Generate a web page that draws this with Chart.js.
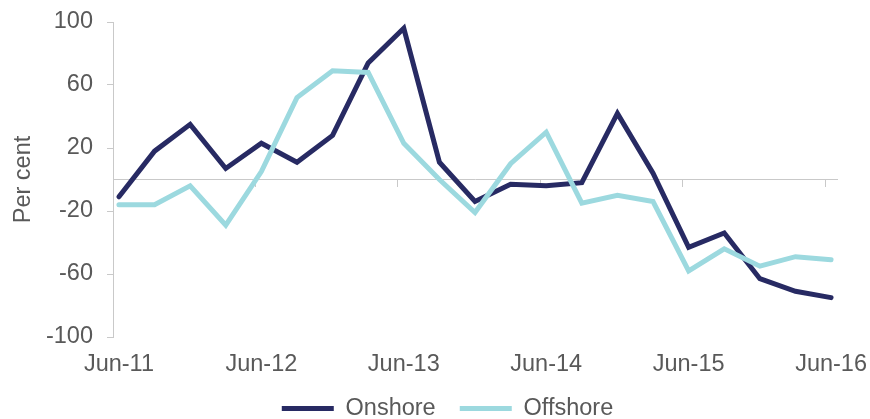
<!DOCTYPE html>
<html>
<head>
<meta charset="utf-8">
<title>Onshore and offshore</title>
<script src="https://cdn.jsdelivr.net/npm/chart.js@4.4.1/dist/chart.umd.min.js"></script>
<style>
  html, body { margin: 0; padding: 0; background: #ffffff; }
  #wrap { width: 870px; height: 419px; position: relative; }
</style>
</head>
<body>
<div id="wrap"><canvas id="chart"></canvas></div>
<script>
// Quarterly observations, per cent
const quarters = ['Jun-11', 'Sep-11', 'Dec-11', 'Mar-12', 'Jun-12', 'Sep-12', 'Dec-12',
                  'Mar-13', 'Jun-13', 'Sep-13', 'Dec-13', 'Mar-14', 'Jun-14', 'Sep-14',
                  'Dec-14', 'Mar-15', 'Jun-15', 'Sep-15', 'Dec-15', 'Mar-16', 'Jun-16'];
const onshore  = [-11, 18, 35, 7, 23, 11, 28, 74, 96, 11, -14, -3, -4, -2, 42, 4, -43, -34, -63, -71, -75];
const offshore = [-16, -16, -4, -29, 5, 52, 69, 68, 23, 0, -21, 10, 30, -15, -10, -14, -58, -44, -55, -49, -51];

// Axis labels
const yearLabels = ['Jun-11', 'Jun-12', 'Jun-13', 'Jun-14', 'Jun-15', 'Jun-16'];
const yTicks = [-100, -60, -20, 20, 60, 100];

const MONTHS = ['Jan', 'Feb', 'Mar', 'Apr', 'May', 'Jun', 'Jul', 'Aug', 'Sep', 'Oct', 'Nov', 'Dec'];
const first = yearLabels[0];
// months elapsed since the start of the first labelled month
function monthOf(label) {
  const [m, y] = label.split('-');
  const [m0, y0] = first.split('-');
  return (Number(y) - Number(y0)) * 12 + MONTHS.indexOf(m) - MONTHS.indexOf(m0);
}
const axisEnd = monthOf(yearLabels[yearLabels.length - 1]) + 1;

// each observation sits in the middle of its month
const toPoints = vals => vals.map((v, i) => ({ x: monthOf(quarters[i]) + 0.5, y: v }));

const NAVY = '#272a63';
const CYAN = '#9cd9df';
const AXIS = '#c9c9c9';
const TEXT = '#595959';
const font = { family: "'Liberation Sans', Arial, Helvetica, sans-serif", size: 23.5 };

new Chart(document.getElementById('chart'), {
  type: 'line',
  data: {
    datasets: [
      {
        label: 'Onshore',
        data: toPoints(onshore),
        borderColor: NAVY,
        backgroundColor: NAVY,
        borderWidth: 5,
        borderCapStyle: 'round',
        borderJoinStyle: 'miter',
        pointRadius: 0,
        tension: 0,
        fill: false,
        order: 2
      },
      {
        label: 'Offshore',
        data: toPoints(offshore),
        borderColor: CYAN,
        backgroundColor: CYAN,
        borderWidth: 5,
        borderCapStyle: 'round',
        borderJoinStyle: 'miter',
        pointRadius: 0,
        tension: 0,
        fill: false,
        order: 1
      }
    ]
  },
  options: {
    responsive: true,
    maintainAspectRatio: false,
    animation: false,
    devicePixelRatio: 1,
    layout: { padding: { left: 25, right: 0, top: 22, bottom: -11.25 } },
    plugins: {
      tooltip: { enabled: false },
      legend: {
        position: 'bottom',
        labels: {
          usePointStyle: true,
          pointStyle: 'line',
          pointStyleWidth: 52,
          font: font,
          color: TEXT,
          padding: 24.1,
          sort: (a, b) => a.datasetIndex - b.datasetIndex
        }
      }
    },
    scales: {
      x: {
        type: 'linear',
        position: 'bottom',
        min: 0,
        max: axisEnd,
        border: { display: false },
        grid: { display: false, drawTicks: false, tickLength: 0 },
        ticks: {
          font: font,
          color: TEXT,
          padding: 13.5,
          maxRotation: 0,
          autoSkip: false,
          callback: (v, i) => yearLabels[i]
        },
        afterBuildTicks: s => { s.ticks = yearLabels.map(l => ({ value: monthOf(l) + 0.5 })); },
        afterFit: s => { s.height = 35.65; s.paddingLeft = 0; s.paddingRight = 0; }
      },
      // zero line with yearly tick marks
      x0: {
        type: 'linear',
        position: { y: 0 },
        min: 0,
        max: axisEnd,
        border: { display: true, color: AXIS, width: 1 },
        grid: { drawOnChartArea: false, drawTicks: true, tickLength: 7, tickColor: AXIS },
        ticks: { display: false },
        afterBuildTicks: s => { s.ticks = yearLabels.map(l => ({ value: monthOf(l) })); },
        afterFit: s => { s.height = 0; s.paddingLeft = 0; s.paddingRight = 0; }
      },
      y: {
        position: 'left',
        min: -100,
        max: 100,
        border: { display: true, color: AXIS, width: 1 },
        grid: { drawOnChartArea: false, drawTicks: true, tickLength: 6, tickColor: AXIS },
        ticks: { font: font, color: TEXT, padding: 14 },
        afterBuildTicks: s => { s.ticks = yTicks.map(v => ({ value: v })); },
        title: {
          display: true,
          text: 'Per cent',
          font: font,
          color: TEXT,
          padding: { top: -15.1, bottom: 0 }
        },
        afterFit: s => { s.width = 88; s.paddingTop = 0; s.paddingBottom = 0; }
      },
      // empty right-hand margin
      yPad: {
        position: 'right',
        display: true,
        border: { display: false },
        grid: { display: false },
        ticks: { display: false },
        afterFit: s => { s.width = 33; s.paddingTop = 0; s.paddingBottom = 0; }
      }
    }
  }
});
</script>
</body>
</html>
